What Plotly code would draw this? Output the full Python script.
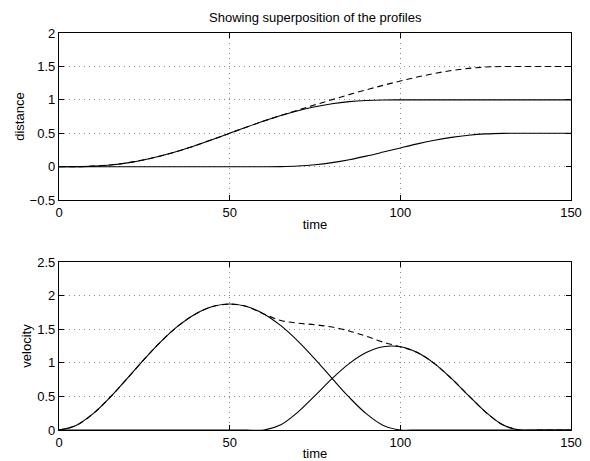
import plotly.graph_objects as go
from plotly.subplots import make_subplots

# time samples (every 5 units)
time = [0, 5, 10, 15, 20, 25, 30, 35, 40, 45, 50, 55, 60, 65, 70, 75, 80, 85, 90, 95,
        100, 105, 110, 115, 120, 125, 130, 135, 140, 145, 150]

# profile 1: distance and velocity
dist1 = [0, 0.0012, 0.0086, 0.0266, 0.0579, 0.1035, 0.1631, 0.2352, 0.3174, 0.4069,
         0.5, 0.5931, 0.6826, 0.7648, 0.8369, 0.8965, 0.9421, 0.9734, 0.9914, 0.9988,
         1, 1, 1, 1, 1, 1, 1, 1, 1, 1, 1]
vel1 = [0, 0.068, 0.243, 0.488, 0.768, 1.055, 1.323, 1.553, 1.728, 1.838,
        1.875, 1.838, 1.728, 1.553, 1.323, 1.055, 0.768, 0.488, 0.243, 0.068,
        0, 0, 0, 0, 0, 0, 0, 0, 0, 0, 0]

# profile 2: distance and velocity
dist2 = [0, 0, 0, 0, 0, 0, 0, 0, 0, 0, 0, 0,
         0, 0.0013, 0.0096, 0.0290, 0.0609, 0.1049, 0.1587, 0.2188, 0.2812, 0.3413,
         0.3951, 0.4391, 0.4710, 0.4904, 0.4987, 0.5, 0.5, 0.5, 0.5]
vel2 = [0, 0, 0, 0, 0, 0, 0, 0, 0, 0, 0, 0,
        0, 0.077, 0.267, 0.512, 0.765, 0.988, 1.152, 1.239, 1.239, 1.152,
        0.988, 0.765, 0.512, 0.267, 0.077, 0, 0, 0, 0]

# superposition
dist_sum = [0, 0.0012, 0.0086, 0.0266, 0.0579, 0.1035, 0.1631, 0.2352, 0.3174, 0.4069,
            0.5, 0.5931, 0.6826, 0.7662, 0.8465, 0.9254, 1.0030, 1.0783, 1.1502, 1.2177,
            1.2812, 1.3413, 1.3951, 1.4391, 1.4710, 1.4904, 1.4987, 1.5, 1.5, 1.5, 1.5]
vel_sum = [0, 0.068, 0.243, 0.488, 0.768, 1.055, 1.323, 1.553, 1.728, 1.838,
           1.875, 1.838, 1.728, 1.630, 1.590, 1.567, 1.533, 1.475, 1.395, 1.307,
           1.239, 1.152, 0.988, 0.765, 0.512, 0.267, 0.077, 0, 0, 0, 0]

FONT = "Liberation Sans, Arial, Helvetica, sans-serif"
FS = 13

fig = make_subplots(rows=2, cols=1, vertical_spacing=0.156)

line_solid = dict(color="black", width=1.1, shape="spline")
line_dash = dict(color="black", width=1.1, dash="6px,4px", shape="spline")

fig.add_trace(go.Scatter(x=time, y=dist1, mode="lines", line=line_solid), row=1, col=1)
fig.add_trace(go.Scatter(x=time, y=dist2, mode="lines", line=line_solid), row=1, col=1)
fig.add_trace(go.Scatter(x=time, y=dist_sum, mode="lines", line=line_dash), row=1, col=1)

fig.add_trace(go.Scatter(x=time, y=vel1, mode="lines", line=line_solid), row=2, col=1)
fig.add_trace(go.Scatter(x=time, y=vel2, mode="lines", line=line_solid), row=2, col=1)
fig.add_trace(go.Scatter(x=time, y=vel_sum, mode="lines", line=line_dash), row=2, col=1)

axis_common = dict(
    showline=True, linecolor="black", linewidth=1.3, mirror="allticks",
    ticks="inside", ticklen=5, tickcolor="black", tickwidth=1,
    showgrid=True, gridcolor="#8a8a8a", griddash="1px,4px", gridwidth=1,
    zeroline=False, automargin=False,
    tickfont=dict(family=FONT, size=FS, color="black"),
)

fig.update_xaxes(**axis_common, range=[0, 150], tickvals=[0, 50, 100, 150])
fig.update_xaxes(title=dict(text="time", standoff=1, font=dict(family=FONT, size=FS, color="black")))
fig.update_yaxes(**axis_common)
fig.update_yaxes(range=[-0.5, 2], tickvals=[-0.5, 0, 0.5, 1, 1.5, 2], row=1, col=1,
                 title=dict(text="distance", standoff=2, font=dict(family=FONT, size=FS, color="black")))
fig.update_yaxes(range=[0, 2.5], tickvals=[0, 0.5, 1, 1.5, 2, 2.5], row=2, col=1,
                 title=dict(text="velocity", standoff=2, font=dict(family=FONT, size=FS, color="black")))

fig.update_layout(
    width=590, height=461,
    margin=dict(l=59, r=19, t=33, b=31),
    paper_bgcolor="white", plot_bgcolor="white",
    showlegend=False,
    font=dict(family=FONT, size=FS, color="black"),
    annotations=[dict(text="Showing superposition of the profiles", x=0.5, y=1,
                      xref="paper", yref="paper", xanchor="center", yanchor="bottom",
                      yshift=6, showarrow=False,
                      font=dict(family=FONT, size=FS, color="black"))],
)
fig.update_layout(yaxis=dict(domain=[0.579, 1]), yaxis2=dict(domain=[0, 0.423]))

fig.write_html("out.html")
